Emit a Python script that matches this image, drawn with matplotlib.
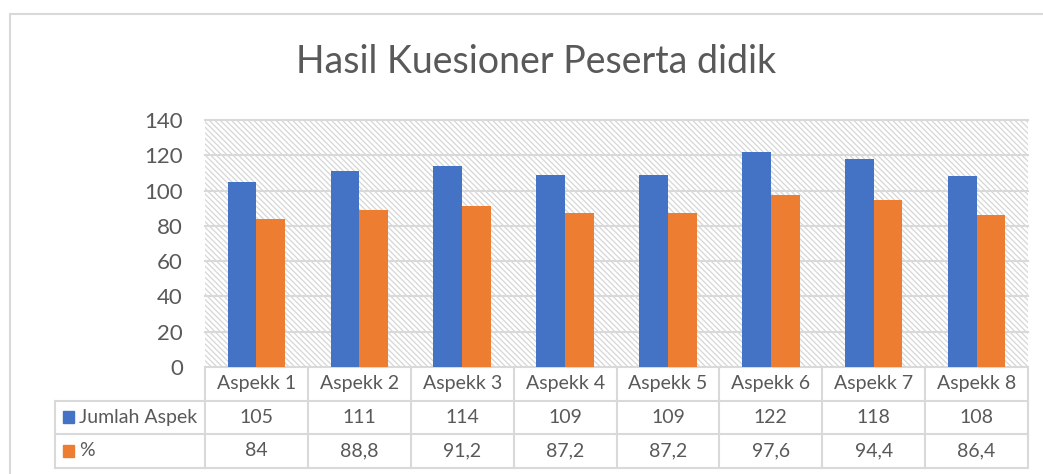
import matplotlib.pyplot as plt
import matplotlib.transforms as mtransforms
from matplotlib.lines import Line2D
from matplotlib.patches import Rectangle
import numpy as np

plt.rcParams['font.family'] = ['Lato', 'DejaVu Sans']
plt.rcParams['hatch.linewidth'] = 0.9

# data
categories = ['Aspekk 1', 'Aspekk 2', 'Aspekk 3', 'Aspekk 4',
              'Aspekk 5', 'Aspekk 6', 'Aspekk 7', 'Aspekk 8']
jumlah = [105, 111, 114, 109, 109, 122, 118, 108]
persen = [84, 88.8, 91.2, 87.2, 87.2, 97.6, 94.4, 86.4]
series_names = ['Jumlah Aspek', '%']
yticks = [0, 20, 40, 60, 80, 100, 120, 140]

blue = '#4472c4'
orange = '#ed7d31'
grid_c = '#d9d9d9'
text_c = '#595959'

W, H = 1043, 474
fig = plt.figure(figsize=(W / 100, H / 100), dpi=100)

def fx(px):
    return px / W

def fy(py):
    return 1 - py / H

# outer chart border (only left and top visible)
fig.add_artist(Line2D([fx(10), fx(10)], [fy(14), 0], transform=fig.transFigure,
                      color=grid_c, lw=1.5))
fig.add_artist(Line2D([fx(10), 1], [fy(14), fy(14)], transform=fig.transFigure,
                      color=grid_c, lw=1.5))

ax_l, ax_r, ax_t, ax_b = 205, 1028, 120, 367
ax = fig.add_axes([fx(ax_l), fy(ax_b), fx(ax_r - ax_l), (ax_b - ax_t) / H])

# hatched plot area
ax.patch.set_facecolor('white')
ax.add_patch(Rectangle((0, 0), 1, 1, transform=ax.transAxes, fill=False,
                       hatch='\\\\\\\\\\\\', edgecolor='#d6d6d6', lw=0, zorder=0))

x = np.arange(len(categories))
bw = 0.28
ax.bar(x - bw / 2, jumlah, bw, color=blue, zorder=3)
ax.bar(x + bw / 2, persen, bw, color=orange, zorder=3)

ax.set_xlim(-0.5, len(categories) - 0.5)
ax.set_ylim(0, 140)
ax.set_yticks(yticks)
for t in yticks:
    ax.axhline(t, color=grid_c, lw=1.5, zorder=1, clip_on=False)
ax.tick_params(axis='y', length=0, labelsize=16, labelcolor=text_c, pad=16)
ax.set_xticks([])
for s in ax.spines.values():
    s.set_visible(False)

fig.text(fx(536), fy(62), 'Hasil Kuesioner Peserta didik', fontsize=27,
         color=text_c, ha='center', va='center')

# data table under the chart
trans = mtransforms.blended_transform_factory(ax.transData, ax.transAxes)
ah = ax_b - ax_t
row_h = 33.5 / ah
cw = (ax_r - ax_l) / len(categories)
left_x = -0.5 - (ax_l - 55) / cw
fs = 14

line_kw = dict(color=grid_c, lw=1.5, clip_on=False, transform=trans)
for i in range(len(categories) + 1):
    ax.add_line(Line2D([i - 0.5, i - 0.5], [0, -3 * row_h], **line_kw))
for r in (1, 2, 3):
    ax.add_line(Line2D([left_x, len(categories) - 0.5], [-r * row_h, -r * row_h], **line_kw))
ax.add_line(Line2D([left_x, left_x], [-row_h, -3 * row_h], **line_kw))

for i, cat in enumerate(categories):
    ax.text(i, -0.5 * row_h, cat, transform=trans, ha='center', va='center',
            fontsize=fs, color=text_c)
    ax.text(i, -1.5 * row_h, str(jumlah[i]), transform=trans, ha='center',
            va='center', fontsize=fs, color=text_c)
    ax.text(i, -2.5 * row_h, str(persen[i]).replace('.', ','), transform=trans,
            ha='center', va='center', fontsize=fs, color=text_c)

for r, (name, c) in enumerate(zip(series_names, [blue, orange])):
    yc = -(1.5 + r) * row_h
    ax.add_patch(Rectangle((left_x + 8 / cw, yc - 6 / ah), 11 / cw, 12 / ah,
                           transform=trans, color=c, clip_on=False))
    ax.text(left_x + 24 / cw, yc, name, transform=trans, ha='left', va='center',
            fontsize=fs, color=text_c)

fig.savefig('out.png', dpi=100)
